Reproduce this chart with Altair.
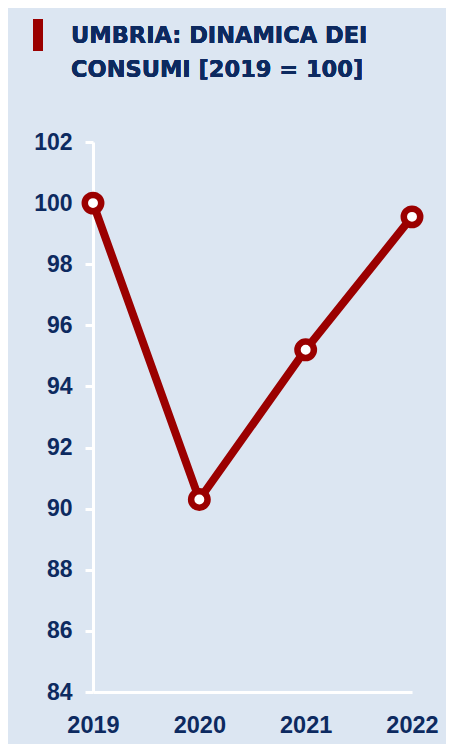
import altair as alt
import pandas as pd

years = ["2019", "2020", "2021", "2022"]
values = [100.0, 90.3, 95.2, 99.55]
title_lines = ["UMBRIA: DINAMICA DEI", "CONSUMI [2019 = 100]"]

df = pd.DataFrame({"anno": years, "valore": values})

RED = "#9b0000"
NAVY = "#0d2a60"
BG = "#dce6f2"
TFONT = "DejaVu Sans"
LFONT = "Liberation Sans"

x = alt.X("anno:O", scale=alt.Scale(type="point", padding=0),
          axis=alt.Axis(title=None, labelAngle=0, ticks=False, domainColor="white",
                        domainWidth=3, labelPadding=21, labelFontSize=23.5,
                        labelFontWeight="bold", labelColor=NAVY, labelFont=LFONT))
y = alt.Y("valore:Q", scale=alt.Scale(domain=[84, 102], nice=False, zero=False),
          axis=alt.Axis(title=None, values=list(range(84, 103, 2)), grid=False,
                        domainColor="white", domainWidth=3, tickColor="white",
                        tickWidth=3, tickSize=8, labelPadding=13, labelFontSize=23,
                        labelFontWeight="bold", labelColor=NAVY, labelFont=LFONT))

line = alt.Chart(df).mark_line(color=RED, strokeWidth=8).encode(x=x, y=y)
pts = alt.Chart(df).mark_point(filled=True, fill="white", stroke=RED, strokeWidth=6.5,
                               size=270, opacity=1).encode(x=x, y=y)
bar = alt.Chart(df).mark_rect(color=RED).encode(
    x=alt.value(-60), x2=alt.value(-50), y=alt.value(-123), y2=alt.value(-91))

t1 = alt.Chart(df).mark_text(text=title_lines[0], align="left", baseline="alphabetic",
                             font=TFONT, fontWeight="bold", fontSize=22.5, color=NAVY
                             ).encode(x=alt.value(-22), y=alt.value(-99))
t2 = alt.Chart(df).mark_text(text=title_lines[1], align="left", baseline="alphabetic",
                             font=TFONT, fontWeight="bold", fontSize=22.5, color=NAVY
                             ).encode(x=alt.value(-22), y=alt.value(-65))

chart = alt.layer(line, pts, bar, t1, t2).properties(
    width=319, height=550,
    padding={"left": 85, "top": 134, "right": 34, "bottom": 52},
    autosize=alt.AutoSizeParams(type="none"),
    background=BG,
).configure_view(stroke=None)

chart.save("out.html", embed_options={"renderer": "svg", "actions": False})
